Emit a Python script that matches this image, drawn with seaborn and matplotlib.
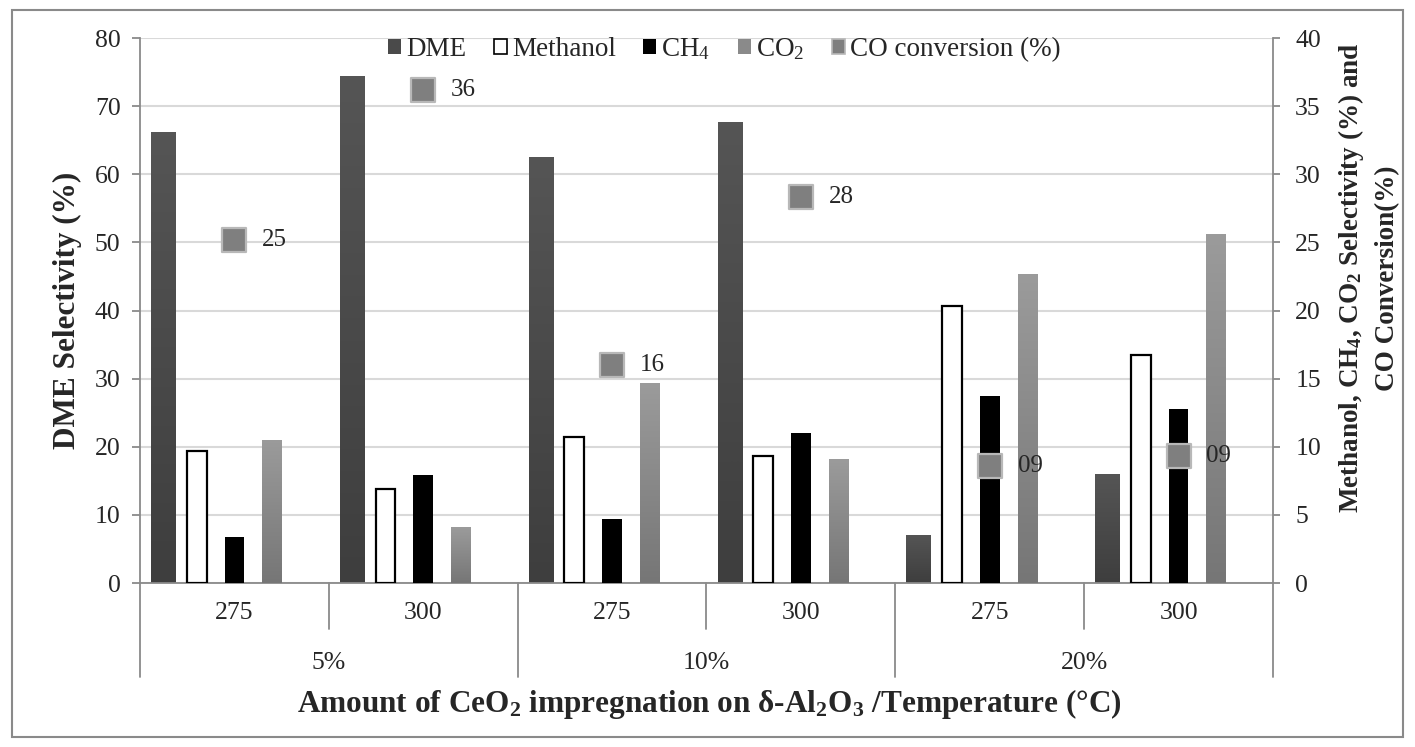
import numpy as np
import pandas as pd
import seaborn as sns
import matplotlib
matplotlib.use("Agg")
import matplotlib.pyplot as plt
from matplotlib.patches import Patch, Rectangle
from matplotlib.colors import LinearSegmentedColormap
from matplotlib.transforms import blended_transform_factory

# --- data -------------------------------------------------------------
loadings = ["5%", "5%", "10%", "10%", "20%", "20%"]
temperatures = ["275", "300", "275", "300", "275", "300"]
dme = [66.2, 74.4, 62.5, 67.6, 7.1, 16.0]
methanol = [9.7, 6.9, 10.7, 9.3, 20.3, 16.7]
ch4 = [3.4, 7.9, 4.7, 11.0, 13.7, 12.8]
co2 = [10.5, 4.1, 14.7, 9.1, 22.7, 25.6]
co_conversion = [25.2, 36.2, 16.0, 28.3, 8.6, 9.3]
series_names = ["DME", "Methanol", "CH$_4$", "CO$_2$", "CO conversion (%)"]

# --- style ------------------------------------------------------------
sns.set_style("white")
plt.rcParams["font.family"] = ["Liberation Serif", "DejaVu Serif"]
plt.rcParams["mathtext.fontset"] = "custom"
plt.rcParams["mathtext.rm"] = "Liberation Serif"
plt.rcParams["mathtext.it"] = "Liberation Serif:italic"
plt.rcParams["mathtext.bf"] = "Liberation Serif:bold"

DME_C = "#4a4a4a"
DME_TOP, DME_BOT = "#555555", "#3e3e3e"
METH_C = "#ffffff"
CH4_C = "#000000"
CO2_C = "#8a8a8a"
CO2_TOP, CO2_BOT = "#9b9b9b", "#767676"
MARK_C = "#7f7f7f"
MARK_EDGE = "#b8b8b8"
AXIS_C = "#8a8a8a"
GRID_C = "#d9d9d9"
FS_TICK = 18.5
FS_LEG = 19.5
FS_VAL = 18

conds = [f"{l}/{t}" for l, t in zip(loadings, temperatures)]
df_dme = pd.DataFrame({"cond": conds, "value": dme})
sec_names = series_names[1:4]
df_sec = pd.DataFrame({
    "cond": conds * 3,
    "series": [n for n in sec_names for _ in conds],
    "value": methanol + ch4 + co2,
})


def shade(axis, patch, top, bottom):
    """Fill a bar with a vertical gradient clipped to its outline."""
    x0, y0 = patch.get_x(), patch.get_y()
    w, h = patch.get_width(), patch.get_height()
    cmap = LinearSegmentedColormap.from_list("bar", [bottom, top])
    grad = np.linspace(0, 1, 128).reshape(-1, 1)
    im = axis.imshow(grad, extent=(x0, x0 + w, y0, y0 + h), origin="lower",
                     cmap=cmap, aspect="auto", interpolation="bilinear",
                     zorder=patch.get_zorder())
    im.set_clip_path(patch)


W, H = 1415, 747
fig = plt.figure(figsize=(W / 100, H / 100), dpi=100)
ax = fig.add_axes([140 / W, 1 - 583 / H, (1273 - 140) / W, (583 - 38) / H])
ax2 = ax.twinx()

# DME on the primary axis, shifted to the left side of each group
sns.barplot(data=df_dme, x="cond", y="value", order=conds, color=DME_C,
            width=0.132, saturation=1, errorbar=None, ax=ax)
dme_bars = list(ax.patches)
for p in dme_bars:
    p.set_x(p.get_x() - 0.375)
    p.set_edgecolor("none")

# Methanol, CH4, CO2 on the secondary axis
sns.barplot(data=df_sec, x="cond", y="value", hue="series", order=conds,
            hue_order=sec_names, palette=[METH_C, CH4_C, CO2_C],
            width=0.6, gap=0.475, saturation=1, errorbar=None,
            legend=False, ax=ax2)
co2_bars = []
for cont, name in zip(ax2.containers, sec_names):
    for bar in cont:
        if name == "Methanol":
            bar.set_edgecolor("black")
            bar.set_linewidth(1.6)
        else:
            bar.set_edgecolor("none")
        if name == "CO$_2$":
            co2_bars.append(bar)

for p in dme_bars:
    shade(ax, p, DME_TOP, DME_BOT)
for p in co2_bars:
    shade(ax2, p, CO2_TOP, CO2_BOT)

# CO conversion markers with value labels
sns.scatterplot(x=np.arange(len(conds)), y=co_conversion, ax=ax2, marker="s",
                s=290, color=MARK_C, edgecolor=MARK_EDGE, linewidth=1.6,
                zorder=6, legend=False)
for i, v in enumerate(co_conversion):
    ax2.annotate(f"{v:02.0f}", (i, v), xytext=(20, 0), textcoords="offset points",
                 ha="left", va="center", fontsize=FS_VAL, zorder=7)

# --- axes -------------------------------------------------------------
ax.set_ylim(0, 80)
ax.set_yticks(np.arange(0, 81, 10))
ax2.set_ylim(0, 40)
ax2.set_yticks(np.arange(0, 41, 5))
for a in (ax, ax2):
    a.set_xlim(-0.5, 5.5)
    a.set_xticks([])
    a.set_xlabel("")
    a.set_ylabel("")
ax.yaxis.grid(True, color=GRID_C, lw=1.5)
ax.set_axisbelow(True)

for s in ("top", "right"):
    ax.spines[s].set_visible(False)
for s in ("top", "left", "bottom"):
    ax2.spines[s].set_visible(False)
for s in ("left", "bottom"):
    ax.spines[s].set_color(AXIS_C)
    ax.spines[s].set_linewidth(1.3)
ax2.spines["right"].set_color(AXIS_C)
ax2.spines["right"].set_linewidth(1.3)

ax.tick_params(axis="y", direction="out", length=6, width=1.3, color=AXIS_C,
               labelsize=FS_TICK, pad=8, left=True)
ax2.tick_params(axis="y", direction="out", length=5, width=1.3, color=AXIS_C,
                labelsize=FS_TICK, pad=11, right=True)

# two-level category axis
trans = blended_transform_factory(ax.transData, ax.transAxes)
for b in (0.5, 2.5, 4.5):
    ax.plot([b, b], [0, -46 / 545], transform=trans, clip_on=False,
            color=AXIS_C, lw=1.3)
for b in (-0.5, 1.5, 3.5, 5.5):
    ax.plot([b, b], [0, -94 / 545], transform=trans, clip_on=False,
            color=AXIS_C, lw=1.3)
for i, t in enumerate(temperatures):
    ax.text(i, -30 / 545, t, transform=trans, ha="center", va="center",
            fontsize=FS_TICK)
for j, l in enumerate(loadings[::2]):
    ax.text(2 * j + 0.5, -80 / 545, l, transform=trans, ha="center",
            va="center", fontsize=FS_TICK)

# axis titles
fig.text(709 / W, 1 - 704 / H,
         r"Amount of CeO$_\mathbf{2}$ impregnation on δ-Al$_\mathbf{2}$O$_\mathbf{3}$ /Temperature (°C)",
         ha="center", va="center", fontsize=22.5, fontweight="bold")
fig.text(67 / W, 1 - 310 / H, "DME Selectivity (%)", rotation=90,
         ha="center", va="center", fontsize=22.5, fontweight="bold")
fig.text(1368 / W, 1 - 278 / H,
         "Methanol, CH$_\\mathbf{4}$, CO$_\\mathbf{2}$ Selectivity (%) and\nCO Conversion(%)",
         rotation=90, ha="center", va="center", fontsize=19.5, fontweight="bold",
         multialignment="center", linespacing=1.5)

# legend
handles = [
    Patch(facecolor=DME_C, edgecolor="none"),
    Patch(facecolor=METH_C, edgecolor="black", linewidth=1.2),
    Patch(facecolor=CH4_C, edgecolor="none"),
    Patch(facecolor=CO2_C, edgecolor="none"),
    Patch(facecolor=MARK_C, edgecolor=MARK_EDGE, linewidth=1.2),
]
fig.legend(handles, series_names, loc="upper left",
           bbox_to_anchor=(388 / W, 1 - 36 / H), ncol=5, frameon=False,
           fontsize=FS_LEG, handlelength=0.48, handleheight=0.48,
           handletextpad=0.2, columnspacing=1.0, borderpad=0, borderaxespad=0)

# outer frame
fig.add_artist(Rectangle((12 / W, 10 / H), (1403 - 12) / W, (737 - 10) / H,
                         transform=fig.transFigure, fill=False,
                         edgecolor=AXIS_C, linewidth=1.5))

fig.savefig("out.png", dpi=100)
